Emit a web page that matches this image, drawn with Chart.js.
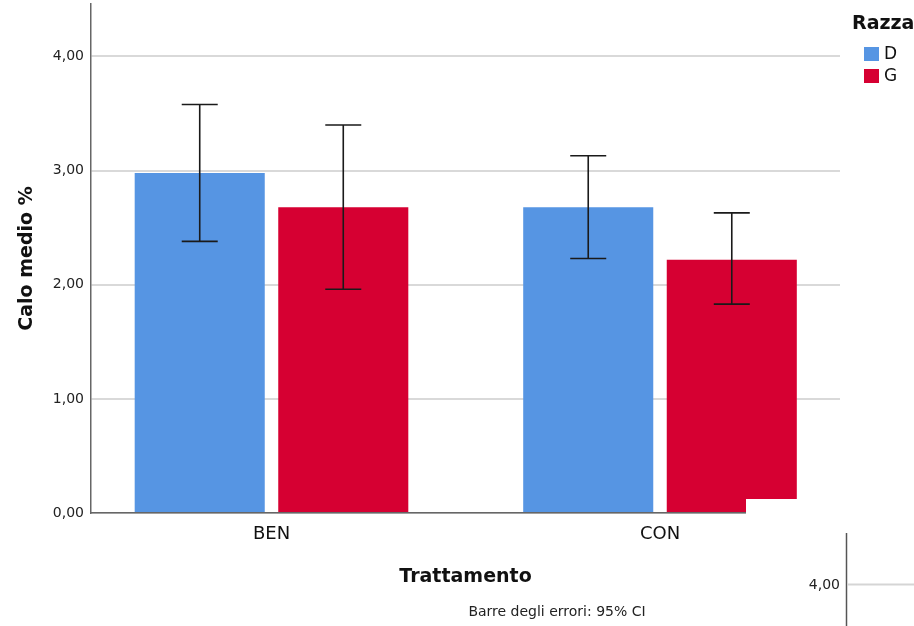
<!DOCTYPE html>
<html>
<head>
<meta charset="utf-8">
<script src="https://cdn.jsdelivr.net/npm/chart.js@4.4.1/dist/chart.umd.min.js"></script>
<style>
  html, body { margin: 0; padding: 0; background: #fff; }
  #wrap { width: 914px; height: 626px; }
</style>
</head>
<body>
<div id="wrap"><canvas id="chart" width="914" height="626"></canvas></div>
<script>
// dati
const categories = ['BEN', 'CON'];
const seriesNames = ['D', 'G'];
const meanD = [2.98, 2.68];
const meanG = [2.68, 2.22];
const lowD = [2.38, 2.23];
const highD = [3.58, 3.13];
const lowG = [1.96, 1.83];
const highG = [3.40, 2.63];
const yTicks = [0, 1, 2, 3, 4];

const FONT = '"DejaVu Sans", sans-serif';
const colors = ['#5695E3', '#D60032'];

// barre di errore + legenda + note
const extras = {
  id: 'extras',
  afterDatasetsDraw(chart) {
    const ctx = chart.ctx;
    const y = chart.scales.y;
    const lows = [lowD, lowG], highs = [highD, highG];
    ctx.save();
    ctx.strokeStyle = '#1a1a1a';
    ctx.lineWidth = 1.6;
    chart.data.datasets.forEach((ds, di) => {
      chart.getDatasetMeta(di).data.forEach((bar, i) => {
        const x = bar.x;
        const yl = y.getPixelForValue(lows[di][i]);
        const yh = y.getPixelForValue(highs[di][i]);
        ctx.beginPath();
        ctx.moveTo(x, yh); ctx.lineTo(x, yl);
        ctx.moveTo(x - 18, yh); ctx.lineTo(x + 18, yh);
        ctx.moveTo(x - 18, yl); ctx.lineTo(x + 18, yl);
        ctx.stroke();
      });
    });
    ctx.restore();
  },
  afterDraw(chart) {
    const ctx = chart.ctx;
    ctx.save();
    // legenda
    ctx.fillStyle = '#111';
    ctx.font = 'bold 19px ' + FONT;
    ctx.textBaseline = 'middle';
    ctx.textAlign = 'left';
    ctx.fillText('Razza', 852, 24);
    ctx.font = '17px ' + FONT;
    chart.data.datasets.forEach((ds, i) => {
      const cy = 54 + i * 22;
      ctx.fillStyle = ds.backgroundColor;
      ctx.fillRect(864, cy - 7, 15, 14);
      ctx.fillStyle = '#111';
      ctx.fillText(ds.label, 884, cy + 1);
    });
    // nota
    ctx.font = '14px ' + FONT;
    ctx.fillStyle = '#222';
    ctx.textAlign = 'center';
    ctx.fillText('Barre degli errori: 95% CI', 557, 612);
    // ritaglio bianco e frammento di asse (artefatti dello screenshot)
    ctx.fillStyle = '#fff';
    ctx.fillRect(746, 499, 100, 22);
    ctx.strokeStyle = '#555';
    ctx.lineWidth = 1.5;
    ctx.beginPath();
    ctx.moveTo(846.5, 533); ctx.lineTo(846.5, 626);
    ctx.stroke();
    ctx.strokeStyle = '#d5d5d5';
    ctx.lineWidth = 2;
    ctx.beginPath();
    ctx.moveTo(848, 584.5); ctx.lineTo(914, 584.5);
    ctx.stroke();
    ctx.font = '14px ' + FONT;
    ctx.fillStyle = '#222';
    ctx.textAlign = 'right';
    ctx.fillText('4,00', 840, 585);
    ctx.restore();
  }
};

new Chart(document.getElementById('chart'), {
  type: 'bar',
  data: {
    datasets: [
      { label: seriesNames[0], data: categories.map((c, i) => ({ x: i, y: meanD[i] })), backgroundColor: colors[0] },
      { label: seriesNames[1], data: categories.map((c, i) => ({ x: i, y: meanG[i] })), backgroundColor: colors[1] }
    ]
  },
  options: {
    responsive: false,
    animation: false,
    categoryPercentage: 0.739,
    barPercentage: 0.906,
    layout: { padding: { top: 4, right: 74, left: 0, bottom: 0 } },
    plugins: { legend: { display: false }, tooltip: { enabled: false } },
    scales: {
      x: {
        type: 'linear',
        offset: false,
        min: -0.4646,
        max: 1.4633,
        afterBuildTicks: s => { s.ticks = categories.map((c, i) => ({ value: i })); },
        afterFit: s => { s.height = 113; s.paddingLeft = 0; s.paddingRight = 0; },
        grid: { display: false, offset: false },
        border: { display: true, color: '#666', width: 1.5 },
        ticks: {
          callback: v => categories[v],
          font: { family: FONT, size: 18 },
          color: '#111',
          padding: 3,
          maxRotation: 0
        },
        title: {
          display: true,
          text: 'Trattamento',
          font: { family: FONT, size: 19, weight: 'bold' },
          color: '#111',
          padding: { bottom: 38 }
        }
      },
      y: {
        min: 0,
        max: 4.46,
        afterBuildTicks: s => { s.ticks = yTicks.map(v => ({ value: v })); },
        afterFit: s => { s.width = 91; s.paddingTop = 0; s.paddingBottom = 0; },
        grid: { color: '#d9d9d9', lineWidth: 2, drawTicks: false },
        border: { display: true, color: '#666', width: 1.5 },
        ticks: {
          callback: v => v.toFixed(2).replace('.', ','),
          font: { family: FONT, size: 14 },
          color: '#222',
          padding: 7
        },
        title: {
          display: true,
          text: 'Calo medio %',
          font: { family: FONT, size: 19, weight: 'bold' },
          color: '#111',
          padding: { top: 16 }
        }
      }
    }
  },
  plugins: [extras]
});
</script>
</body>
</html>
